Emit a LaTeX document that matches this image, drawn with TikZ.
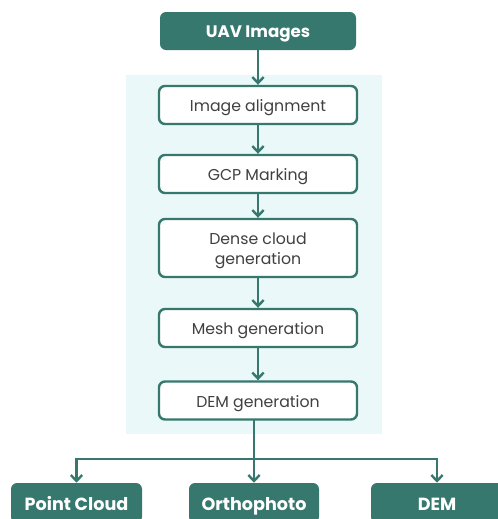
\documentclass[tikz,border=0pt]{standalone}
\usepackage{fontspec}
\setmainfont{Poppins}
\usetikzlibrary{arrows.meta}
\definecolor{teal1}{RGB}{54,120,110}
\definecolor{panel}{RGB}{234,248,249}
\definecolor{txt}{RGB}{64,64,64}
\tikzset{
  px/.style={x=0.75pt,y=-0.75pt},
  stepbox/.style={draw=teal1,line width=1.8pt,rounded corners=4.5pt,fill=white,
    minimum width=148.5pt,minimum height=28.5pt,align=center,text=txt,
    font=\fontsize{11.8}{15}\selectfont,inner sep=0pt,text height=10.5pt,text depth=0.7pt},
  tallbox/.style={stepbox,minimum height=43.5pt,text height={},text depth={}},
  darkbox/.style={fill=teal1,rounded corners=4.5pt,text=white,
    font=\bfseries\fontsize{12.5}{14}\selectfont,inner sep=0pt,minimum height=28.5pt,
    text height=10.5pt,text depth=1.2pt},
  outbox/.style={darkbox,minimum height=30pt,font=\bfseries\fontsize{13.2}{15}\selectfont,
    text height=10.6pt,text depth=0pt},
  conn/.style={draw=teal1,line width=1.8pt,-{Straight Barb[length=4.5pt,width=8.5pt,line width=1.8pt]}},
  line/.style={draw=teal1,line width=1.8pt}
}
\begin{document}
\begin{tikzpicture}[px]
\useasboundingbox (0,0) rectangle (498,519);
\clip (0,0) rectangle (498,519);
\fill[panel] (126,75) rectangle (382,434);
\node[darkbox,minimum width=147pt] (uav) at (258,31) {UAV Images};
\node[stepbox] (align) at (258,105) {Image alignment};
\node[stepbox] (gcp) at (258,174) {GCP Marking};
\node[tallbox] (dense) at (258,248) {\rule{0pt}{12.5pt}Dense cloud\\generation};
\node[stepbox] (mesh) at (258,328) {Mesh generation};
\node[stepbox] (demg) at (258,400.5) {DEM generation};
\node[outbox,minimum width=98.25pt] (pc) at (76.5,503) {Point Cloud};
\node[outbox,minimum width=97.5pt] (ortho) at (254,503) {Orthophoto};
\node[outbox,minimum width=99pt] (dem) at (437,503) {DEM};
\draw[conn] (uav) -- (align);
\draw[conn] (align) -- (gcp);
\draw[conn] (gcp) -- (dense);
\draw[conn] (dense) -- (mesh);
\draw[conn] (mesh) -- (demg);
\coordinate (split) at (254,459);
\draw[line] (254,420) -- (split);
\draw[conn] (split) -| (pc.north);
\draw[conn] (split) -| (dem.north);
\draw[conn] (split) -- (ortho.north);
\end{tikzpicture}
\end{document}
